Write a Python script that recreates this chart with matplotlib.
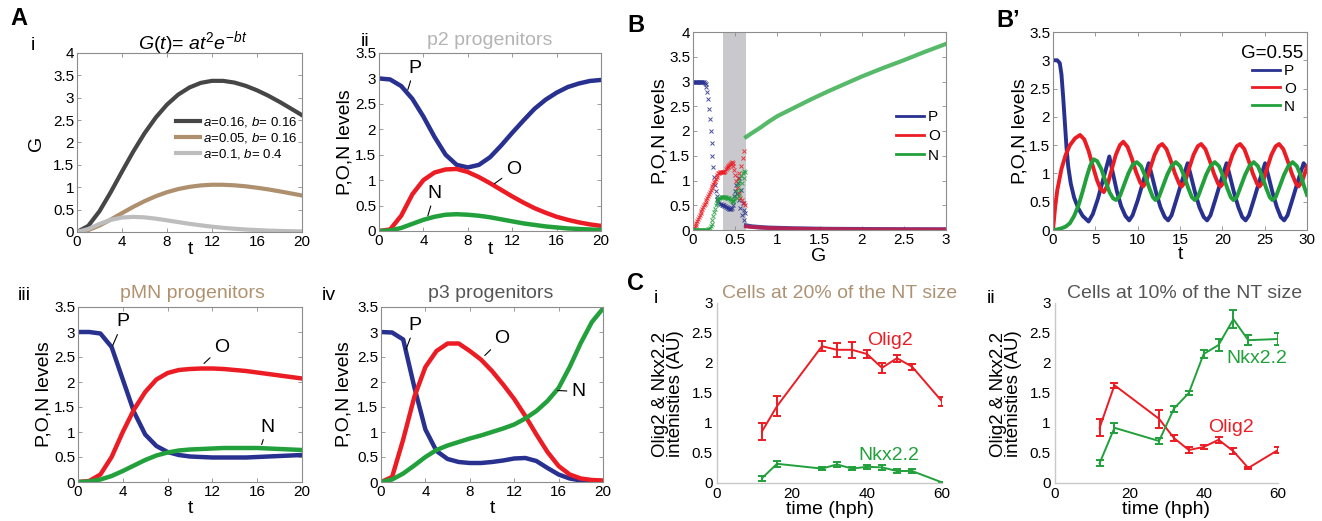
import matplotlib
matplotlib.use('Agg')
import matplotlib.pyplot as plt
from matplotlib.ticker import FuncFormatter

plt.rcParams['font.family'] = ['Liberation Sans', 'DejaVu Sans']
plt.rcParams['mathtext.fontset'] = 'custom'
plt.rcParams['mathtext.it'] = 'Liberation Sans:italic'
plt.rcParams['mathtext.rm'] = 'Liberation Sans'

W, H = 1322, 521
BLUE = '#28318f'
RED = '#ec1c24'
GREEN = '#21a03b'

# ---- panel A: t grid (read at integer t) ----
t_A = [0, 1, 2, 3, 4, 5, 6, 7, 8, 9, 10, 11, 12, 13, 14, 15, 16, 17, 18, 19, 20]

# A i  G(t)
G_a016 = [0, 0.136, 0.465, 0.891, 1.35, 1.797, 2.205, 2.557, 2.847, 3.071, 3.23,
          3.332, 3.378, 3.377, 3.339, 3.266, 3.166, 3.046, 2.909, 2.761, 2.61]
G_a005 = [0, 0.043, 0.145, 0.278, 0.422, 0.562, 0.689, 0.799, 0.89, 0.96, 1.009,
          1.041, 1.056, 1.055, 1.043, 1.021, 0.989, 0.952, 0.909, 0.863, 0.816]
G_a01 = [0, 0.067, 0.18, 0.271, 0.323, 0.338, 0.327, 0.298, 0.261, 0.221, 0.183,
         0.149, 0.119, 0.093, 0.073, 0.056, 0.043, 0.032, 0.024, 0.018, 0.013]

# A ii  p2 progenitors
P_p2 = [3.0, 2.98, 2.85, 2.6, 2.25, 1.85, 1.5, 1.3, 1.25, 1.3, 1.45, 1.68, 1.93,
        2.17, 2.4, 2.58, 2.72, 2.83, 2.9, 2.95, 2.97]
O_p2 = [0, 0.03, 0.3, 0.72, 1.0, 1.15, 1.21, 1.22, 1.16, 1.06, 0.94, 0.81, 0.68,
        0.56, 0.45, 0.36, 0.28, 0.22, 0.17, 0.13, 0.1]
N_p2 = [0, 0.01, 0.06, 0.14, 0.22, 0.28, 0.32, 0.33, 0.32, 0.3, 0.27, 0.23, 0.19,
        0.15, 0.12, 0.09, 0.07, 0.05, 0.04, 0.03, 0.02]

# A iii  pMN progenitors
P_pmn = [3.0, 3.0, 2.97, 2.7, 2.05, 1.4, 0.95, 0.72, 0.6, 0.54, 0.51, 0.5, 0.49,
         0.49, 0.49, 0.49, 0.5, 0.51, 0.52, 0.53, 0.54]
O_pmn = [0, 0.02, 0.15, 0.5, 1.0, 1.45, 1.8, 2.05, 2.18, 2.24, 2.26, 2.27, 2.27,
         2.26, 2.24, 2.22, 2.19, 2.16, 2.13, 2.1, 2.07]
N_pmn = [0, 0.01, 0.05, 0.12, 0.22, 0.33, 0.44, 0.53, 0.59, 0.63, 0.65, 0.66, 0.67,
         0.68, 0.68, 0.68, 0.68, 0.67, 0.66, 0.65, 0.64]

# A iv  p3 progenitors
P_p3 = [3.0, 2.99, 2.85, 1.9, 1.05, 0.62, 0.46, 0.4, 0.38, 0.38, 0.4, 0.43, 0.47,
        0.48, 0.42, 0.28, 0.15, 0.07, 0.03, 0.01, 0.0]
O_p3 = [0, 0.1, 0.85, 1.7, 2.3, 2.62, 2.77, 2.77, 2.62, 2.45, 2.22, 1.95, 1.66,
        1.32, 0.95, 0.6, 0.32, 0.15, 0.07, 0.04, 0.03]
N_p3 = [0, 0.05, 0.17, 0.33, 0.5, 0.64, 0.73, 0.8, 0.87, 0.93, 1.0, 1.07, 1.15,
        1.27, 1.42, 1.62, 1.88, 2.3, 2.78, 3.2, 3.47]

# ---- panel B: levels vs G ----
G_low = [0.00, 0.01, 0.02, 0.03, 0.04, 0.05, 0.06, 0.07, 0.08, 0.09, 0.10, 0.11,
         0.12, 0.13, 0.14, 0.15, 0.16, 0.17, 0.18, 0.19, 0.20, 0.21, 0.22, 0.23,
         0.24, 0.25, 0.26, 0.27, 0.28, 0.29, 0.30, 0.31, 0.32, 0.33, 0.34, 0.35,
         0.36, 0.37, 0.38, 0.39, 0.40, 0.41, 0.42, 0.43, 0.44, 0.45, 0.46, 0.47,
         0.48, 0.49, 0.50, 0.51, 0.52, 0.53, 0.54, 0.55, 0.56, 0.57, 0.58, 0.59,
         0.60, 0.61, 0.62]
P_low = [3.0, 3.0, 3.0, 3.0, 3.0, 3.0, 3.0, 3.0, 3.0, 3.0, 3.0, 3.0,
         3.0, 2.99, 2.97, 2.94, 2.88, 2.78, 2.65, 2.45, 2.24, 2.0, 1.75, 1.5,
         1.28, 1.08, 0.9, 0.78, 0.68, 0.62, 0.58, 0.55, 0.53, 0.52, 0.51, 0.5,
         0.5, 0.49, 0.48, 0.47, 0.46, 0.45, 0.44, 0.43, 0.42, 0.43, 0.45, 0.5,
         0.58, 0.68, 0.78, 0.9, 0.72, 0.95, 0.6, 1.05, 0.45, 0.8, 0.3, 0.55,
         0.2, 0.4, 0.35]
O_low = [0.0, 0.04, 0.08, 0.11, 0.15, 0.19, 0.23, 0.27, 0.3, 0.34, 0.38, 0.42,
         0.46, 0.5, 0.53, 0.57, 0.61, 0.65, 0.69, 0.73, 0.76, 0.8, 0.84, 0.88,
         0.92, 0.96, 1.0, 1.04, 1.08, 1.12, 1.15, 1.16, 1.17, 1.17, 1.17, 1.17,
         1.18, 1.18, 1.2, 1.23, 1.25, 1.27, 1.29, 1.31, 1.33, 1.36, 1.38, 1.36,
         1.3, 1.22, 1.12, 0.98, 0.85, 1.05, 0.75, 1.15, 0.65, 1.3, 0.6, 1.45,
         0.55, 1.6, 0.5]
N_low = [0.0, 0.0, 0.0, 0.0, 0.0, 0.0, 0.0, 0.0, 0.0, 0.0, 0.0, 0.0,
         0.0, 0.0, 0.0, 0.0, 0.01, 0.01, 0.02, 0.03, 0.05, 0.08, 0.13, 0.2,
         0.28, 0.36, 0.43, 0.5, 0.55, 0.6, 0.62, 0.64, 0.65, 0.66, 0.67, 0.67,
         0.67, 0.67, 0.66, 0.66, 0.65, 0.65, 0.64, 0.64, 0.63, 0.6, 0.58, 0.56,
         0.58, 0.62, 0.68, 0.78, 0.65, 0.9, 0.7, 1.0, 0.8, 1.1, 0.95, 1.15,
         1.2, 1.05, 1.18]
G_high = [0.63, 0.7, 0.8, 0.9, 1.0, 1.2, 1.4, 1.6, 1.8, 2.0, 2.25, 2.5, 2.75, 3.0]
N_high = [1.88, 1.96, 2.07, 2.19, 2.3, 2.47, 2.64, 2.8, 2.95, 3.1, 3.27, 3.43, 3.6, 3.76]
P_high = [0.09, 0.07, 0.055, 0.045, 0.04, 0.03, 0.025, 0.02, 0.018, 0.016, 0.014,
          0.012, 0.011, 0.01]
O_high = [0.07, 0.06, 0.05, 0.04, 0.035, 0.028, 0.022, 0.018, 0.016, 0.014, 0.012,
          0.011, 0.01, 0.01]
band_G = (0.355, 0.625)

# ---- panel B': G=0.55 time course ----
tP = [0, 0.5, 0.8, 1.0, 1.2, 1.4, 1.6, 1.8, 2.1, 2.5, 3.0, 3.5, 4.2, 4.7, 5.3, 5.9,
      6.65, 7.05, 7.55, 8.05, 8.55, 9.0, 9.4, 10.0, 10.6, 11.3,
      11.7, 12.2, 12.7, 13.2, 13.6, 14.0, 14.6, 15.2, 15.9,
      16.3, 16.8, 17.3, 17.8, 18.2, 18.6, 19.2, 19.8, 20.5,
      20.9, 21.4, 21.9, 22.35, 22.75, 23.15, 23.75, 24.35, 25.05,
      25.45, 25.95, 26.45, 26.9, 27.3, 27.7, 28.3, 28.9, 29.6, 30.0]
P_osc = [3.0, 3.0, 2.95, 2.75, 2.35, 1.9, 1.45, 1.12, 0.82, 0.57, 0.38, 0.25, 0.15,
         0.28, 0.55, 0.88,
         1.3, 1.02, 0.68, 0.42, 0.25, 0.17, 0.26, 0.52, 0.83, 1.18,
         0.95, 0.65, 0.4, 0.23, 0.17, 0.26, 0.55, 0.85, 1.18,
         0.95, 0.65, 0.4, 0.23, 0.17, 0.26, 0.55, 0.85, 1.18,
         0.95, 0.65, 0.4, 0.23, 0.17, 0.26, 0.55, 0.85, 1.18,
         0.95, 0.65, 0.4, 0.23, 0.17, 0.26, 0.55, 0.85, 1.18, 1.1]
tO = [0, 0.25, 0.5, 1.0, 1.5, 2.0, 2.6, 3.2, 3.7, 4.2, 4.7, 5.2, 5.6, 6.0, 6.4, 6.9,
      7.4, 7.9, 8.3, 8.8, 9.3, 9.8, 10.3, 10.65, 11.0, 11.5, 12.0, 12.5, 12.9,
      13.4, 13.9, 14.4, 14.9, 15.2, 15.6, 16.1, 16.6, 17.1, 17.5, 18.0, 18.5,
      19.0, 19.5, 19.8, 20.2, 20.7, 21.2, 21.7, 22.1, 22.6, 23.1, 23.6, 24.1,
      24.4, 24.8, 25.3, 25.8, 26.3, 26.7, 27.2, 27.7, 28.2, 28.7, 29.0, 29.4, 30.0]
O_osc = [0, 0.4, 0.7, 1.08, 1.33, 1.5, 1.62, 1.68, 1.6, 1.4, 1.13, 0.88, 0.73, 0.67,
         0.78, 1.05, 1.32, 1.5, 1.56, 1.47, 1.27, 1.03, 0.84, 0.77, 0.85, 1.1, 1.33,
         1.48, 1.52, 1.43, 1.23, 1.0, 0.82, 0.77, 0.85, 1.1, 1.33, 1.48, 1.52, 1.43,
         1.23, 1.0, 0.82, 0.77, 0.85, 1.1, 1.33, 1.48, 1.52, 1.43, 1.23, 1.0, 0.82,
         0.77, 0.85, 1.1, 1.33, 1.48, 1.52, 1.43, 1.23, 1.0, 0.82, 0.77, 0.85, 1.12]
tN = [0, 0.5, 1.0, 1.5, 2.0, 2.5, 3.0, 3.5, 4.0, 4.4, 4.8, 5.2, 5.7, 6.2, 6.7, 7.1,
      7.45, 7.9, 8.4, 8.9, 9.4, 9.9, 10.4, 10.9, 11.4, 11.8, 12.1, 12.5, 13.0,
      13.5, 14.0, 14.5, 15.0, 15.5, 16.0, 16.4, 16.75, 17.1, 17.6, 18.1, 18.6,
      19.1, 19.6, 20.1, 20.6, 21.0, 21.3, 21.7, 22.2, 22.7, 23.2, 23.7, 24.2,
      24.7, 25.2, 25.6, 25.9, 26.3, 26.8, 27.3, 27.8, 28.3, 28.8, 29.3, 29.7, 30.0]
N_osc = [0, 0.01, 0.03, 0.06, 0.12, 0.25, 0.43, 0.68, 0.95, 1.14, 1.25, 1.22, 1.08,
         0.86, 0.66, 0.56, 0.53, 0.6, 0.8, 1.0, 1.15, 1.2, 1.13, 0.95, 0.73, 0.58,
         0.53, 0.58, 0.78, 0.98, 1.13, 1.2, 1.13, 0.95, 0.73, 0.58, 0.53, 0.58, 0.78,
         0.98, 1.13, 1.2, 1.13, 0.95, 0.73, 0.58, 0.53, 0.58, 0.78, 0.98, 1.13, 1.2,
         1.13, 0.95, 0.73, 0.58, 0.53, 0.58, 0.78, 0.98, 1.13, 1.2, 1.13, 0.95, 0.75,
         0.62]

# ---- panel C: measured intensities ----
hph = [12, 16, 28, 32, 36, 40, 44, 48, 52, 60]
olig_20 = [0.86, 1.28, 2.28, 2.22, 2.22, 2.15, 1.92, 2.08, 1.94, 1.36]
olig_20_err = [0.14, 0.17, 0.08, 0.12, 0.13, 0.06, 0.08, 0.06, 0.05, 0.08]
nkx_20 = [0.08, 0.32, 0.24, 0.31, 0.24, 0.27, 0.26, 0.2, 0.2, 0.01]
nkx_20_err = [0.04, 0.05, 0.03, 0.04, 0.03, 0.03, 0.04, 0.03, 0.03, 0.0]
olig_10 = [0.92, 1.63, 1.07, 0.75, 0.55, 0.6, 0.72, 0.53, 0.25, 0.55]
olig_10_err = [0.14, 0.04, 0.15, 0.05, 0.05, 0.04, 0.05, 0.05, 0.02, 0.05]
nkx_10 = [0.33, 0.92, 0.7, 1.24, 1.5, 2.15, 2.3, 2.73, 2.38, 2.4]
nkx_10_err = [0.05, 0.08, 0.05, 0.05, 0.04, 0.06, 0.1, 0.15, 0.08, 0.1]

fig = plt.figure(figsize=(W / 100, H / 100), dpi=100)


def add_ax(l, t, r, b):
    return fig.add_axes([l / W, 1 - b / H, (r - l) / W, (b - t) / H])


def ftext(x, y, s, **kw):
    fig.text(x / W, 1 - y / H, s, **kw)


fmt = FuncFormatter(lambda v, p: '%g' % v)


def box_style(ax, xt, yt, xlim, ylim):
    for s in ax.spines.values():
        s.set_color('#8c8c8c')
        s.set_linewidth(0.8)
    ax.tick_params(direction='in', length=3, width=0.6, color='#8c8c8c',
                   top=True, right=True, labelsize=11, pad=2)
    ax.set_xticks(xt)
    ax.set_yticks(yt)
    ax.xaxis.set_major_formatter(fmt)
    ax.yaxis.set_major_formatter(fmt)
    ax.set_xlim(xlim)
    ax.set_ylim(ylim)


yt35 = [0, 0.5, 1, 1.5, 2, 2.5, 3, 3.5]
yt4 = [0, 0.5, 1, 1.5, 2, 2.5, 3, 3.5, 4]
xt20 = [0, 4, 8, 12, 16, 20]
ann = dict(arrowstyle='-', lw=0.8, color='k', shrinkA=1, shrinkB=0)

# A i
ax = add_ax(77, 53, 302, 232)
ax.plot(t_A, G_a016, color='#464646', lw=3, label='$a$=0.16, $b$= 0.16')
ax.plot(t_A, G_a005, color='#ae906e', lw=3, label='$a$=0.05, $b$= 0.16')
ax.plot(t_A, G_a01, color='#bdbdbd', lw=3, label='$a$=0.1, $b$= 0.4')
box_style(ax, xt20, yt4, (0, 20), (0, 4))
ax.legend(loc='upper left', bbox_to_anchor=(176 / W, 1 - 115 / H),
          bbox_transform=fig.transFigure, frameon=False, borderpad=0,
          borderaxespad=0, fontsize=9.5, handlelength=1.8, handletextpad=0.25,
          labelspacing=0.15)
ftext(193, 49, r'$G(t)$= $at^{2}e^{-bt}$', fontsize=14, ha='center', va='baseline')
ftext(37, 143, 'G', fontsize=14, rotation=90, ha='center', va='center')
ftext(190, 254, 't', fontsize=14, ha='center', va='baseline')

# A ii, iii, iv
panels = [
    ((379, 53, 601, 231), P_p2, O_p2, N_p2, 'p2 progenitors', '#b4b4b4', (490, 45), 345, 142, 254,
     [((3.2, 3.2), (2.6, 2.78)), ((12.1, 1.2), (10.4, 0.93)), ((5.0, 0.74), (4.4, 0.3))]),
    ((78, 307, 302, 482), P_pmn, O_pmn, N_pmn, 'pMN progenitors', '#b09270', (192, 298), 44, 394, 513,
     [((4.0, 3.2), (3.1, 2.73)), ((12.8, 2.7), (11.25, 2.37)), ((16.9, 1.1), (16.4, 0.75))]),
    ((381, 307, 603, 482), P_p3, O_p3, N_p3, 'p3 progenitors', '#555555', (491, 298), 344, 394, 513,
     [((3.06, 3.13), (2.25, 2.65)), ((10.9, 2.87), (9.35, 2.53)), ((17.75, 1.81), (15.9, 1.83))]),
]
for box, P, O, N, title, tcol, tpos, ylx, yly, xly, labs in panels:
    ax = add_ax(*box)
    ax.plot(t_A, P, color=BLUE, lw=3.2)
    ax.plot(t_A, O, color=RED, lw=3.2)
    ax.plot(t_A, N, color=GREEN, lw=3.2)
    box_style(ax, xt20, yt35, (0, 20), (0, 3.5))
    for name, (txt, pt) in zip(['P', 'O', 'N'], labs):
        ax.annotate(name, xy=pt, xytext=txt, fontsize=14, ha='center', va='center',
                    arrowprops=ann)
    ftext(tpos[0], tpos[1], title, fontsize=14, color=tcol, ha='center', va='baseline')
    ftext(ylx, yly, 'P,O,N levels', fontsize=14, rotation=90, ha='center', va='center')
    ftext((box[0] + box[2]) / 2, xly, 't', fontsize=14, ha='center', va='baseline')

# B
ax = add_ax(693, 32, 946, 230)
ax.axvspan(band_G[0], band_G[1], color='#c9c9cd', lw=0, zorder=0)
mk = dict(ls='none', marker='x', ms=3, mew=0.7, alpha=0.85)
ax.plot(G_low, P_low, color=BLUE, **mk)
ax.plot(G_low, O_low, color=RED, **mk)
ax.plot(G_low, N_low, color=GREEN, **mk)
ax.plot(G_high, N_high, color='#3aae50', lw=3, alpha=0.85)
ax.plot(G_high, P_high, color=BLUE, lw=3.2, alpha=0.85)
ax.plot(G_high, O_high, color='#cc1844', lw=2.8, alpha=0.8)
box_style(ax, [0, 0.5, 1, 1.5, 2, 2.5, 3], yt4, (0, 3), (0, 4))
hB = [plt.Line2D([], [], color=c, lw=2) for c in (BLUE, RED, GREEN)]
ax.legend(hB, ['P', 'O', 'N'], loc='upper left', bbox_to_anchor=(896 / W, 1 - 110 / H),
          bbox_transform=fig.transFigure, frameon=False, borderpad=0, borderaxespad=0,
          fontsize=11, handlelength=1.8, handletextpad=0.3, labelspacing=0.35)
ftext(660, 131, 'P,O,N levels', fontsize=14, rotation=90, ha='center', va='center')
ftext(819, 261, 'G', fontsize=14, ha='center', va='baseline')

# B'
ax = add_ax(1053, 32, 1307, 230)
ax.plot(tP, P_osc, color=BLUE, lw=2.8)
ax.plot(tO, O_osc, color=RED, lw=2.8)
ax.plot(tN, N_osc, color=GREEN, lw=2.8)
box_style(ax, [0, 5, 10, 15, 20, 25, 30], yt35, (0, 30), (0, 3.5))
ax.legend(hB, ['P', 'O', 'N'], loc='upper left', bbox_to_anchor=(1252 / W, 1 - 64 / H),
          bbox_transform=fig.transFigure, frameon=False, borderpad=0, borderaxespad=0,
          fontsize=11, handlelength=1.8, handletextpad=0.3, labelspacing=0.25)
ftext(1303, 58, 'G=0.55', fontsize=13.5, ha='right', va='baseline')
ftext(1020, 131, 'P,O,N levels', fontsize=14, rotation=90, ha='center', va='center')
ftext(1180, 259, 't', fontsize=14, ha='center', va='baseline')

# C
cpanels = [
    ((717, 303, 942, 483), olig_20, olig_20_err, nkx_20, nkx_20_err,
     'Cells at 20% of the NT size', '#ad9274', 840, 668, (40.0, 2.375), (37.6, 0.46)),
    ((1055, 303, 1278, 483), olig_10, olig_10_err, nkx_10, nkx_10_err,
     'Cells at 10% of the NT size', '#555555', 1185, 1006, (41.2, 0.925), (46.0, 2.075)),
]
for box, ol, ole, nk, nke, title, tcol, tx, ylx, olpos, nkpos in cpanels:
    ax = add_ax(*box)
    ax.errorbar(hph, ol, yerr=ole, color=RED, lw=1.4, elinewidth=1.4, capsize=3, capthick=1.4)
    ax.errorbar(hph, nk, yerr=nke, color=GREEN, lw=1.4, elinewidth=1.4, capsize=3, capthick=1.4)
    ax.set_xlim(0, 60)
    ax.set_ylim(0, 3)
    ax.set_xticks([0, 20, 40, 60])
    ax.set_yticks([0, 0.5, 1, 1.5, 2, 2.5, 3])
    ax.yaxis.set_major_formatter(fmt)
    for s in ('top', 'right'):
        ax.spines[s].set_visible(False)
    for s in ('left', 'bottom'):
        ax.spines[s].set_color('#c8c8c8')
        ax.spines[s].set_linewidth(1.0)
    ax.tick_params(length=0, labelsize=11, pad=3)
    ax.text(olpos[0], olpos[1], 'Olig2', color=RED, fontsize=14, va='center')
    ax.text(nkpos[0], nkpos[1], 'Nkx2.2', color=GREEN, fontsize=14, va='center')
    ftext(tx, 298, title, fontsize=14, color=tcol, ha='center', va='baseline')
    ftext(ylx, 394, 'Olig2 & Nkx2.2\nintenisties (AU)', fontsize=13.5, rotation=90,
          ha='center', va='center', linespacing=0.9, multialignment='center')
    ftext((box[0] + box[2]) / 2, 514, 'time (hph)', fontsize=14, ha='center', va='baseline')

# panel letters
ftext(10, 25, 'A', fontsize=17, fontweight='bold', va='baseline')
ftext(31, 50, 'i', fontsize=14, va='baseline')
ftext(361, 46, 'ii', fontsize=14, va='baseline')
ftext(627, 32, 'B', fontsize=17, fontweight='bold', va='baseline')
ftext(996, 27, 'B\u2019', fontsize=17, fontweight='bold', va='baseline')
ftext(18, 300, 'iii', fontsize=14, va='baseline')
ftext(322, 300, 'iv', fontsize=14, va='baseline')
ftext(627, 290, 'C', fontsize=17, fontweight='bold', va='baseline')
ftext(654, 303, 'i', fontsize=14, va='baseline')
ftext(987, 303, 'ii', fontsize=14, va='baseline')

fig.savefig('out.png', dpi=100)
